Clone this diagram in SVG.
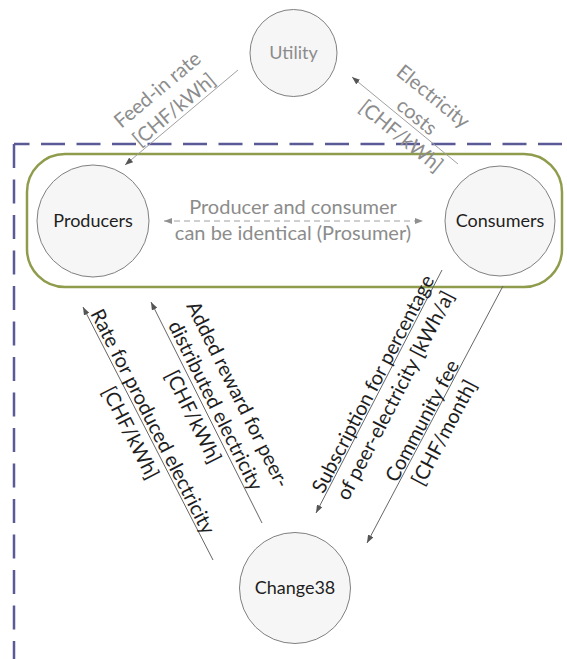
<svg xmlns="http://www.w3.org/2000/svg" width="567" height="659" viewBox="0 0 567 659">
<style>
.node circle{fill:#f6f6f6;stroke:#808080;stroke-width:1}
.nl{font-family:Lato,"Liberation Sans",sans-serif;font-size:18px;text-anchor:middle;fill:#1e1e1e}
.gl{fill:#8c8c8c}
.el{font-family:Lato,"Liberation Sans",sans-serif;font-size:20px;text-anchor:middle;fill:#1e1e1e}
.eg{fill:#8c8c8c}
.c{fill:none;stroke:#666;stroke-width:1}
.cl{fill:none;stroke:#a0a0a0;stroke-width:1}
.frame{fill:none;stroke:#5a5a96;stroke-width:2.5;stroke-dasharray:24 11.5}
</style>
<defs>
<marker id="ah" viewBox="0 0 8 6" refX="8" refY="3" markerWidth="8" markerHeight="6" markerUnits="userSpaceOnUse" orient="auto-start-reverse">
<path d="M0,0 L8,3 L0,6 z" fill="#555"/>
</marker>
<marker id="ahl" viewBox="0 0 8 6" refX="8" refY="3" markerWidth="8" markerHeight="6" markerUnits="userSpaceOnUse" orient="auto-start-reverse">
<path d="M0,0 L8,3 L0,6 z" fill="#909090"/>
</marker>
</defs>
<rect width="567" height="659" fill="#ffffff"/>
<g id="frame">
<line class="frame" x1="14" y1="144" x2="570" y2="144" stroke-dashoffset="8.5"/>
<line class="frame" x1="14" y1="144" x2="14" y2="662"/>
</g>
<g id="group-box">
<rect x="27" y="154" width="535" height="133" rx="38" ry="38" fill="none" stroke="#8f9c4c" stroke-width="2.5"/>
</g>
<g id="connectors">
<line class="cl" x1="238" y1="70" x2="125" y2="165" marker-end="url(#ah)"/>
<line class="cl" x1="458" y1="164" x2="352" y2="77" marker-end="url(#ah)"/>
<line class="cl" x1="164" y1="221" x2="423" y2="221" stroke-dasharray="6 4" marker-start="url(#ahl)" marker-end="url(#ahl)"/>
<line class="c" x1="213" y1="560" x2="83" y2="307" marker-end="url(#ah)"/>
<line class="c" x1="262" y1="523" x2="151" y2="302" marker-end="url(#ah)"/>
<line class="c" x1="442" y1="270" x2="316" y2="513" marker-end="url(#ah)"/>
<line class="c" x1="503" y1="286" x2="367" y2="543" marker-end="url(#ah)"/>
</g>
<g id="utility" class="node">
<circle cx="293.5" cy="53" r="43.5"/>
<text class="nl gl" x="293.5" y="59">Utility</text>
</g>
<g id="producers" class="node">
<circle cx="93" cy="221" r="56"/>
<text class="nl" x="93" y="227">Producers</text>
</g>
<g id="consumers" class="node">
<circle cx="500" cy="221" r="55"/>
<text class="nl" x="500" y="227">Consumers</text>
</g>
<g id="change38" class="node">
<circle cx="295" cy="588" r="55.5"/>
<text class="nl" x="295" y="594">Change38</text>
</g>
<g id="labels">
<g transform="translate(181,118) rotate(-40)">
<text class="el eg" x="0" y="-30">Feed-in rate</text>
<text class="el eg" x="0" y="-4">[CHF/kWh]</text>
</g>
<g transform="translate(410,125) rotate(39)">
<text class="el eg" x="0" y="-30">Electricity</text>
<text class="el eg" x="0" y="-4">costs</text>
<text class="el eg" x="0" y="21">[CHF/kWh]</text>
</g>
<text class="el eg" x="293" y="214">Producer and consumer</text>
<text class="el eg" x="293" y="240">can be identical (Prosumer)</text>
<g transform="translate(144,426) rotate(63)">
<text class="el" x="0" y="-3">Rate for produced electricity</text>
<text class="el" x="0" y="22">[CHF/kWh]</text>
</g>
<g transform="translate(205,411) rotate(63.5)">
<text class="el" x="0" y="-30">Added reward for peer-</text>
<text class="el" x="0" y="-5">distributed electricity</text>
<text class="el" x="0" y="20">[CHF/kWh]</text>
</g>
<g transform="translate(381,388) rotate(-62.6)">
<text class="el" x="0" y="-2">Subscription for percentage</text>
<text class="el" x="0" y="23">of peer-electricity [kWh/a]</text>
</g>
<g transform="translate(430,425) rotate(-62)">
<text class="el" x="0" y="-2">Community fee</text>
<text class="el" x="0" y="23">[CHF/month]</text>
</g>
</g>
</svg>
